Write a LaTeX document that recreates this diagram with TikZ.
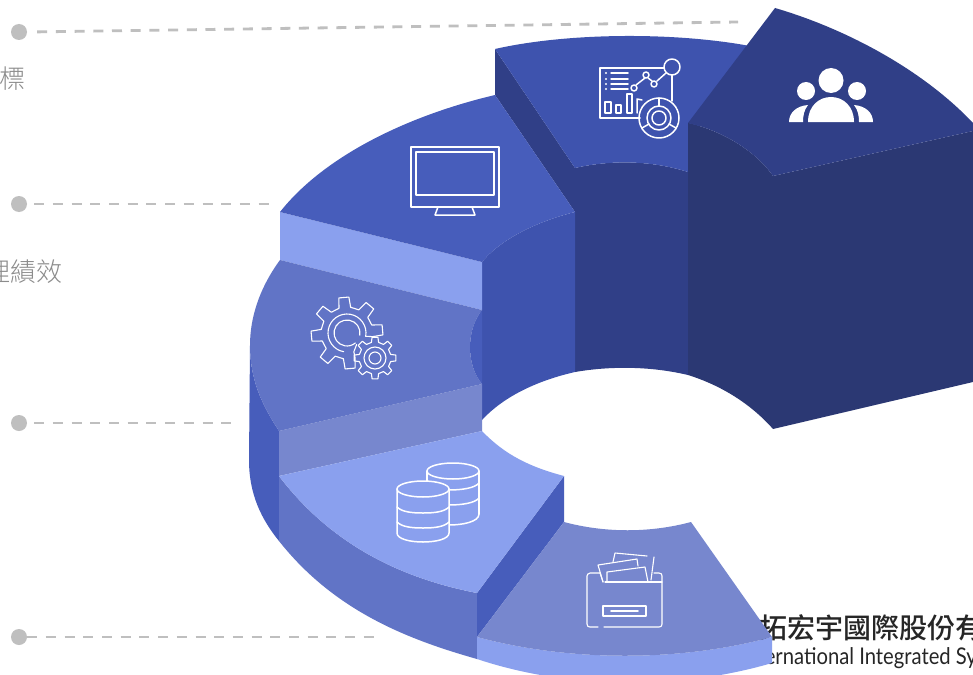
\documentclass[tikz,border=0pt]{standalone}
\usepackage{fontspec}
\usetikzlibrary{calc}
\newfontfamily\cjk{Noto Sans CJK TC Light}
\newfontfamily\cjkm{Noto Sans CJK TC Medium}
\newfontfamily\latin[FakeStretch=0.88]{Lato}
\definecolor{cA}{HTML}{303F87}
\definecolor{cB}{HTML}{2B3873}
\definecolor{cC}{HTML}{3E53AE}
\definecolor{cD}{HTML}{475DBB}
\definecolor{cE}{HTML}{6174C6}
\definecolor{cF}{HTML}{7787CE}
\definecolor{cG}{HTML}{8AA0EE}
\definecolor{cDot}{HTML}{BFBFBF}
\definecolor{cLabel}{HTML}{8C8C8C}
\tikzset{
  dotnode/.style={circle,fill=cDot,inner sep=0pt,minimum size=16pt},
  leader/.style={draw=cDot,line width=2.8pt,dash pattern=on 10pt off 8.7pt},
  lab/.style={text=cLabel,inner sep=0pt,font=\cjk\fontsize{26}{26}\selectfont},
  icon/.style={draw=white,line width=1.5pt,line join=round,line cap=round},
  thin icon/.style={draw=white,line width=1.1pt,line join=round,line cap=round},
}
\begin{document}
\begin{tikzpicture}[x=1pt,y=-1pt]
\useasboundingbox (0,0) rectangle (973,674);
\clip (0,0) rectangle (973,674);
\fill[white] (0,0) rectangle (973,674);

% leaders and labels
\node[dotnode] (d1) at (19,32) {};
\node[dotnode] (d2) at (19,204) {};
\node[dotnode] (d3) at (19,423) {};
\node[dotnode] (d4) at (19,637) {};
\coordinate (e1) at (738,22);
\coordinate (e2) at (270,204);
\coordinate (e3) at (232,423);
\coordinate (e4) at (375,637);
\draw[leader] ($(d1.east)+(10,-0.1)$) -- (e1);
\draw[leader] ($(d2.east)+(7,0)$) -- (e2);
\draw[leader] ($(d3.east)+(7,0)$) -- (e3);
\draw[leader] (d4.east) -- (e4);
\node[lab,anchor=east] (t1) at (25.5,79) {標};
\node[lab,anchor=east] (t2) at (62.5,272) {理績效};

% logo (partly covered by the last slice)
\node[anchor=west,inner sep=0pt,font=\cjkm\fontsize{28}{28}\selectfont,text=black!85] (logo1) at (759,628) {拓宏宇國際股份有};
\node[anchor=east,inner sep=0pt,font=\latin\fontsize{23}{23}\selectfont,text=black!85] (logo2) at (977,658) {International Integrated Sy};

% slice 2
\fill[cA] (495,49) -- (575,168) -- (575,212) -- (495,95) -- cycle;
\fill[cA] (575,168) .. controls (610,160) and (650,160) .. (688,172) -- (688,375)
  .. controls (650,366) and (610,366) .. (575,372) -- cycle;
\fill[cC] (495,49) .. controls (570,32) and (680,32) .. (755,47) -- (700,123) -- (688,172)
  .. controls (650,160) and (610,160) .. (575,168) -- cycle;

% slice 1 (dark, back right)
\fill[cB] (688,123) .. controls (720,130) and (755,150) .. (773,176) -- (973,131) -- (973,382) -- (773,429)
  .. controls (750,403) and (720,385) .. (688,375) -- cycle;
\fill[cA] (775,8) .. controls (850,30) and (925,72) .. (973,123) -- (973,131) -- (773,176)
  .. controls (755,150) and (720,130) .. (688,123) -- cycle;

% slice 3
\fill[cC] (482,262) .. controls (500,240) and (535,222) .. (575,212) -- (575,372)
  .. controls (540,380) and (505,395) .. (482,420) -- cycle;
\fill[cG] (280,212) -- (482,262) -- (482,310) -- (280,260) -- cycle;
\fill[cD] (280,212) .. controls (325,155) and (410,115) .. (495,95) -- (575,212)
  .. controls (535,222) and (500,240) .. (482,262) -- cycle;

% slice 4
\fill[cD] (250,345) .. controls (250,380) and (262,405) .. (279,431) -- (279,541)
  .. controls (262,520) and (249,495) .. (249,460) -- cycle;
\fill[cF] (279,431) -- (482,384) -- (482,431) -- (279,476) -- cycle;
\fill[cE] (280,260) -- (482,310) .. controls (466,330) and (466,365) .. (482,384) -- (279,431)
  .. controls (262,405) and (250,380) .. (250,345) .. controls (250,320) and (258,290) .. (280,260) -- cycle;
\fill[cD] (482,310) .. controls (466,330) and (466,365) .. (482,384) -- cycle;

% slice 5
\fill[cE] (279,476) .. controls (335,550) and (410,580) .. (477,593) -- (477,659)
  .. controls (410,640) and (335,612) .. (279,541) -- cycle;
\fill[cD] (564,476) -- (477,593) -- (477,637) -- (564,522) -- cycle;
\fill[cG] (279,476) -- (482,431) .. controls (505,455) and (530,467) .. (564,476) -- (477,593)
  .. controls (410,580) and (335,550) .. (279,476) -- cycle;

% slice 6
\fill[cG] (477,637) .. controls (570,662) and (680,662) .. (772,637) -- (772,663)
  .. controls (680,690) and (570,690) .. (477,659) -- cycle;
\fill[cF] (564,522) .. controls (605,533) and (650,533) .. (691,522) -- (772,637)
  .. controls (680,662) and (570,662) .. (477,637) -- cycle;

% monitor icon
\draw[icon] (411,147) rectangle (499,207);
\draw[icon] (416,152) rectangle (494,195);
\draw[icon] (438,207) -- (435,215) -- (475,215) -- (472,207);

% dashboard icon
\draw[icon] (664,68) -- (600,68) -- (600,118) -- (640,118);
\draw[icon] (672,75) -- (672,101);
\draw[icon] (672,67) circle[radius=8];
\draw[icon] (659,118) circle[radius=20];
\draw[icon] (659,118) circle[radius=12];
\draw[icon] (659,118) circle[radius=7];
\draw[icon] (659,98) -- (659,106);
\draw[icon] (642,128) -- (649,124);
\draw[icon] (676,128) -- (669,124);
\foreach \yy in {73,79,84,89} {
  \fill[white] (606,\yy) circle[radius=1.2];
  \draw[icon] (611,\yy) -- (628,\yy);
}
\draw[icon] (636,85) -- (645,78);
\draw[icon] (648,78) -- (652,81);
\draw[icon] (657,81) -- (666,73);
\draw[icon] (634,88) circle[radius=3];
\draw[icon] (646,75) circle[radius=3];
\draw[icon] (654,84) circle[radius=3];
\draw[icon] (605,102) rectangle (611,113);
\draw[icon] (616,105) rectangle (621,113);
\draw[icon] (627,94) rectangle (632,113);
\draw[icon] (637,113) -- (637,99) -- (642,100);

% people icon
\fill[white] (831,80.5) circle[radius=12.5];
\fill[white] (806,91) circle[radius=9];
\fill[white] (857,91) circle[radius=9];
\fill[white] (808,122) .. controls (808,106) and (819,97) .. (831,97) .. controls (843,97) and (854,106) .. (854,122) -- cycle;
\fill[white] (789,122) .. controls (789,113) and (796,106) .. (808,105) .. controls (804,110) and (803,116) .. (803,122) -- cycle;
\fill[white] (873,122) .. controls (873,113) and (866,106) .. (854,105) .. controls (858,110) and (859,116) .. (859,122) -- cycle;

% gears
\begin{scope}[shift={(347,333)}]
  \draw[thin icon] (50:15) -- (70:20) \foreach \a in {85,130,175,220,265,310,355} {
     -- (\a-13:26) -- (\a-8:36) -- (\a+8:36) -- (\a+13:26) } -- (10:19);
  \draw[thin icon] (10:19) arc[start angle=10,end angle=-260,radius=19];
  \draw[thin icon] (10:13) arc[start angle=10,end angle=-310,radius=13];
\end{scope}
\begin{scope}[shift={(375,358)}]
  \draw[thin icon] (-13:16) \foreach \a in {0,45,90,135,180,225,270,315} {
     -- (\a-13:16) -- (\a-8:21) -- (\a+8:21) -- (\a+13:16) } -- cycle;
  \draw[thin icon] (0,0) circle[radius=11];
  \draw[thin icon] (0,0) circle[radius=6];
\end{scope}

% databases
\draw[icon] (453,471) ellipse[x radius=26,y radius=8];
\draw[icon] (479,471) -- (479,514) (427,471) -- (427,482);
\draw[icon] (449,490) .. controls (462,490) and (475,488) .. (479,483);
\draw[icon] (449,505) .. controls (462,505) and (475,503) .. (479,498);
\draw[icon] (449,525) .. controls (462,525) and (479,522) .. (479,514);
\fill[cG] (397,489) rectangle (449,536);
\draw[icon,fill=cG] (423,489) ellipse[x radius=26,y radius=8];
\draw[icon] (397,489) -- (397,533) .. controls (397,539) and (410,542) .. (423,542) .. controls (436,542) and (449,539) .. (449,533) -- (449,489);
\draw[icon] (397,507) .. controls (402,512) and (412,513) .. (423,513) .. controls (434,513) and (444,512) .. (449,507);
\draw[icon] (397,522) .. controls (402,527) and (412,528) .. (423,528) .. controls (434,528) and (444,527) .. (449,522);

% folder
\draw[thin icon] (605,582) -- (662,582);
\draw[thin icon] (600,573) -- (590,573) .. controls (588,573) and (587,575) .. (587,576) -- (587,624) .. controls (587,626) and (588,627) .. (590,627) -- (598,627);
\draw[thin icon] (604,627) -- (659,627) .. controls (661,627) and (662,626) .. (662,624) -- (662,576) .. controls (662,574) and (661,573) .. (659,573) -- (654,573);
\draw[thin icon] (600,573) -- (603,582);
\draw[thin icon] (603,606) rectangle (646,616);
\draw[thin icon,line width=1.6pt] (611,611) -- (638,611);
\draw[thin icon] (607,582) -- (607,572) -- (645,567) -- (648,582);
\draw[thin icon] (603,582) -- (598,565) -- (637,559) -- (638,566);
\draw[thin icon] (613,562) -- (615,553) -- (647,556);
\draw[thin icon] (654,557) -- (651,580);
\end{tikzpicture}
\end{document}
